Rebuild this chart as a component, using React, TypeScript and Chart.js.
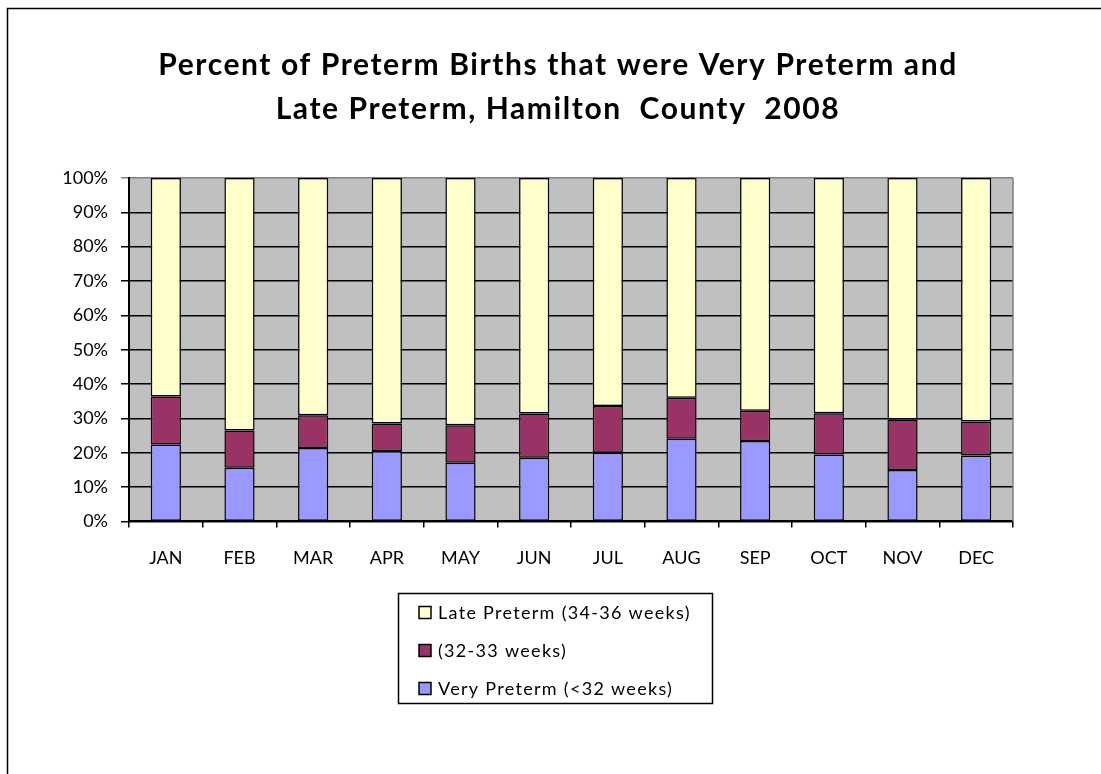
import React, { useEffect, useRef } from "react";
import { Chart, registerables } from "chart.js";

Chart.register(...registerables);

const MONTHS = ["JAN", "FEB", "MAR", "APR", "MAY", "JUN", "JUL", "AUG", "SEP", "OCT", "NOV", "DEC"];
// Very Preterm (<32 weeks), percent of preterm births
const VERY_PRETERM = [22.4, 15.6, 21.4, 20.5, 17.1, 18.5, 20.0, 24.1, 23.4, 19.5, 15.0, 19.2];
// (32-33 weeks)
const MID_PRETERM = [14.0, 10.9, 9.5, 8.0, 10.9, 12.9, 13.6, 11.9, 8.8, 12.0, 14.7, 9.9];
// Late Preterm (34-36 weeks)
const LATE_PRETERM = [63.6, 73.5, 69.1, 71.5, 72.0, 68.6, 66.4, 64.0, 67.8, 68.5, 70.3, 70.9];

const SERIES_LABELS = ["Very Preterm (<32 weeks)", "(32-33 weeks)", "Late Preterm (34-36 weeks)"];
const SERIES_COLORS = ["#9999FF", "#993366", "#FFFFCC"];
const TITLE_LINES = ["Percent of Preterm Births that were Very Preterm and", "Late Preterm, Hamilton  County  2008"];
const Y_TICK_VALUES = [0, 10, 20, 30, 40, 50, 60, 70, 80, 90, 100];

const FONT = "Lato, 'Open Sans', 'DejaVu Sans', sans-serif";

const decorPlugin = {
  id: "decor",
  afterLayout(chart: any) {
    const tb = chart.titleBlock;
    if (tb) {
      tb.left = chart.chartArea.left - 26;
      tb.right = chart.chartArea.right;
      if (!tb.__wrapped) {
        const orig = tb.draw.bind(tb);
        tb.draw = (...args: any[]) => {
          const ctx = chart.ctx;
          ctx.save();
          (ctx as any).letterSpacing = "1.6px";
          orig(...args);
          ctx.restore();
        };
        tb.__wrapped = true;
      }
    }
  },
  beforeDraw(chart: any) {
    const { ctx, chartArea, width, height } = chart;
    ctx.save();
    ctx.fillStyle = "#FFFFFF";
    ctx.fillRect(0, 0, width, height);
    // outer frame
    ctx.strokeStyle = "#000000";
    ctx.lineWidth = 1.5;
    ctx.strokeRect(7.5, 8.5, width + 20, height + 20);
    // plot background
    ctx.fillStyle = "#C0C0C0";
    ctx.fillRect(chartArea.left, chartArea.top, chartArea.right - chartArea.left, chartArea.bottom - chartArea.top);
    ctx.restore();
  },
  afterDraw(chart: any) {
    const { ctx, chartArea } = chart;
    ctx.save();
    // right plot border
    ctx.strokeStyle = "#808080";
    ctx.lineWidth = 1.5;
    ctx.beginPath();
    ctx.moveTo(chartArea.right, chartArea.top);
    ctx.lineTo(chartArea.right, chartArea.bottom);
    ctx.stroke();

    // legend box
    const boxL = 398.5;
    const boxT = 593.5;
    const boxW = 314;
    const boxH = 110;
    ctx.fillStyle = "#FFFFFF";
    ctx.fillRect(boxL, boxT, boxW, boxH);
    ctx.strokeStyle = "#000000";
    ctx.lineWidth = 1.5;
    ctx.strokeRect(boxL, boxT, boxW, boxH);
    const datasets = chart.data.datasets.slice().reverse();
    ctx.font = `18px ${FONT}`;
    (ctx as any).letterSpacing = "1.3px";
    ctx.textBaseline = "middle";
    ctx.textAlign = "left";
    datasets.forEach((ds: any, i: number) => {
      const cy = 612.5 + i * 38;
      ctx.fillStyle = ds.backgroundColor;
      ctx.fillRect(419, cy - 6, 12, 12);
      ctx.strokeStyle = "#000000";
      ctx.lineWidth = 1.5;
      ctx.strokeRect(419, cy - 6, 12, 12);
      ctx.fillStyle = "#000000";
      ctx.fillText(ds.label, 438, cy + 1);
    });
    ctx.restore();
  },
};

export default function App() {
  const canvasRef = useRef<HTMLCanvasElement | null>(null);

  useEffect(() => {
    const canvas = canvasRef.current;
    if (!canvas) return;
    const chart = new Chart(canvas, {
      type: "bar",
      data: {
        labels: MONTHS,
        datasets: [
          { label: SERIES_LABELS[0], data: VERY_PRETERM, backgroundColor: SERIES_COLORS[0] },
          { label: SERIES_LABELS[1], data: MID_PRETERM, backgroundColor: SERIES_COLORS[1] },
          { label: SERIES_LABELS[2], data: LATE_PRETERM, backgroundColor: SERIES_COLORS[2] },
        ].map((d) => ({
          ...d,
          borderColor: "#000000",
          borderWidth: 1.5,
          borderSkipped: false,
          barPercentage: 0.41,
          categoryPercentage: 1,
        })),
      },
      options: {
        responsive: false,
        animation: false,
        layout: { padding: { left: 58, right: 88, top: 20, bottom: 185 } },
        plugins: {
          legend: { display: false },
          tooltip: { enabled: false },
          title: {
            display: true,
            text: TITLE_LINES,
            color: "#000000",
            font: { family: FONT, size: 30, weight: "bold", lineHeight: 1.45 },
            padding: { top: 24, bottom: 47 },
          },
        },
        scales: {
          x: {
            stacked: true,
            offset: true,
            grid: {
              offset: true,
              drawOnChartArea: false,
              drawTicks: true,
              tickLength: 6,
              color: "#000000",
              lineWidth: 1.5,
            },
            border: { display: true, color: "#000000", width: 2 },
            ticks: { color: "#000000", font: { family: FONT, size: 18 }, padding: 20, maxRotation: 0 },
          },
          y: {
            stacked: true,
            min: 0,
            max: 100,
            afterFit(scale: any) {
              scale.width = 71;
            },
            afterBuildTicks(scale: any) {
              scale.ticks = Y_TICK_VALUES.map((v) => ({ value: v }));
            },
            grid: {
              color: (c: any) => (c.tick && c.tick.value === 100 ? "#808080" : "#000000"),
              lineWidth: 1.5,
              tickLength: 8,
              drawTicks: true,
            },
            border: { display: true, color: "#000000", width: 2 },
            ticks: {
              color: "#000000",
              font: { family: FONT, size: 18 },
              padding: 13,
              callback: (v: any) => `${v}%`,
            },
          },
        },
      },
      plugins: [decorPlugin],
    });
    return () => chart.destroy();
  }, []);

  return (
    <div style={{ position: "fixed", left: 0, top: 0, width: 1101, height: 774, background: "#fff" }}>
      <canvas ref={canvasRef} width={1101} height={774} style={{ width: 1101, height: 774, display: "block" }} />
    </div>
  );
}
